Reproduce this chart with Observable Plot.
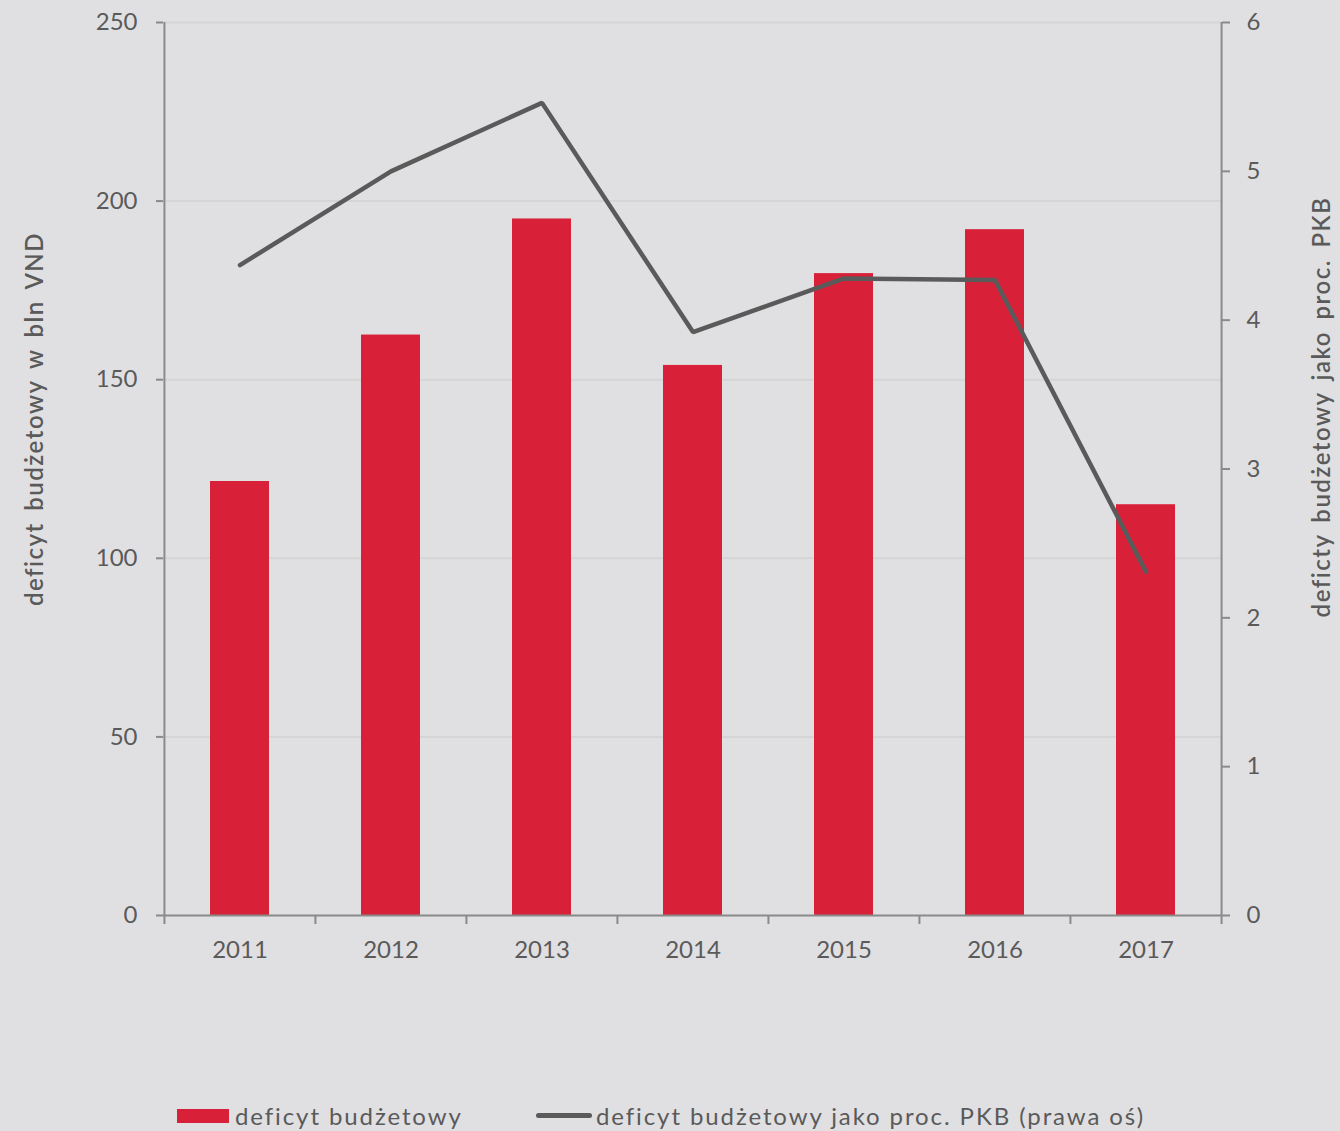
<!DOCTYPE html>
<html>
<head>
<meta charset="utf-8">
<script src="https://cdn.jsdelivr.net/npm/d3@7"></script>
<script src="https://cdn.jsdelivr.net/npm/@observablehq/plot@0.6"></script>
<style>
  html, body { margin: 0; padding: 0; background: #e0e0e2; }
  #wrap { position: relative; width: 1340px; height: 1131px; background: #e0e0e2; overflow: hidden; }
  .item { position: absolute; top: 1101px; display: flex; align-items: center; font-family: Lato, sans-serif; font-size: 24px; color: #5a5a5a; letter-spacing: 1.9px; white-space: nowrap; }
  .sw-bar { width: 52px; height: 14px; background: #d92039; margin-right: 6px; }
  .sw-line { width: 56px; height: 5px; border-radius: 3px; background: #5a5a5a; margin-right: 4px; }
</style>
</head>
<body>
<div id="wrap">
  <div id="chart"></div>
  <div class="item" style="left:177px"><div class="sw-bar"></div><span>deficyt budżetowy</span></div>
  <div class="item" style="left:536px"><div class="sw-line"></div><span>deficyt budżetowy jako proc. PKB (prawa oś)</span></div>
</div>
<script>
const years = ["2011", "2012", "2013", "2014", "2015", "2016", "2017"];
const deficit = [121.5, 162.5, 195, 154, 179.7, 192, 115];
const deficitPct = [4.37, 5.0, 5.46, 3.92, 4.28, 4.27, 2.31];
const leftTicks = [0, 50, 100, 150, 200, 250];
const rightTicks = [0, 1, 2, 3, 4, 5, 6];
const leftLabel = "deficyt budżetowy w bln VND";
const rightLabel = "deficty budżetowy jako proc. PKB";

const leftMax = 250, rightMax = 6;
const k = leftMax / rightMax;
const rows = years.map((y, i) => ({year: y, value: deficit[i], pct: deficitPct[i], pctScaled: deficitPct[i] * k}));

const W = 1340, H = 1090;
const mL = 163, mR = 119, mT = 22, mB = H - 915;
const step = (W - mL - mR) / years.length;
const axisColor = "#8a8a8a";
const textColor = "#5a5a5a";
const font = "Lato, sans-serif";

const chart = Plot.plot({
  width: W, height: H,
  marginLeft: mL, marginRight: mR, marginTop: mT, marginBottom: mB,
  style: {background: "transparent", fontFamily: font, fontSize: "24px", color: textColor},
  x: {domain: years, paddingInner: 0.61, paddingOuter: 0.305, align: 0.5},
  y: {domain: [0, leftMax]},
  marks: [
    Plot.gridY(leftTicks.filter(d => d > 0), {stroke: "#d5d5d7", strokeOpacity: 1, strokeWidth: 2}),
    Plot.barY(rows, {x: "year", y: "value", fill: "#d92039"}),
    Plot.line(rows, {x: "year", y: "pctScaled", stroke: "#5a5a5a", strokeWidth: 4.5, strokeLinecap: "round", strokeLinejoin: "miter"}),
    // left axis
    Plot.axisY({ticks: leftTicks, anchor: "left", tickSize: 7, tickPadding: 19, stroke: axisColor, strokeWidth: 2, fill: textColor, label: null, fontSize: 24}),
    Plot.ruleX(years.slice(0, 1), {x: d => d, y1: d => leftMax, y2: d => 0, dx: -step / 2, insetBottom: -9, stroke: axisColor, strokeWidth: 2}),
    // right axis
    Plot.axisY({ticks: rightTicks.map(d => d * k), tickFormat: d => d3.format("d")(Math.round(d / k)), anchor: "right", tickSize: 8, tickPadding: 17, stroke: axisColor, strokeWidth: 2, fill: textColor, label: null, fontSize: 24}),
    Plot.ruleX(years.slice(-1), {x: d => d, y1: d => leftMax, y2: d => 0, dx: step / 2, insetBottom: -9, stroke: axisColor, strokeWidth: 2}),
    // x axis
    Plot.axisX({tickSize: 0, tickPadding: 25, fill: textColor, label: null, fontSize: 24}),
    Plot.ruleY([0], {stroke: axisColor, strokeWidth: 2}),
    Plot.ruleX(years.slice(1), {x: d => d, y1: d => 0, y2: d => 0, dx: -step / 2, insetBottom: -9, stroke: axisColor, strokeWidth: 2}),
    // axis labels
    Plot.text([leftLabel], {frameAnchor: "left", text: d => d, rotate: -90, textAnchor: "middle", dx: -128, dy: -50, fill: textColor, fontSize: 24, fontWeight: 600}),
    Plot.text([rightLabel], {frameAnchor: "right", text: d => d, rotate: -90, textAnchor: "middle", dx: 101, dy: -62, fill: textColor, fontSize: 24, fontWeight: 600})
  ]
});
d3.select(chart).selectAll("text").filter(function() { return this.textContent === leftLabel || this.textContent === rightLabel; })
  .style("letter-spacing", "1.5px").style("word-spacing", "4px");
document.getElementById("chart").appendChild(chart);
</script>
</body>
</html>
